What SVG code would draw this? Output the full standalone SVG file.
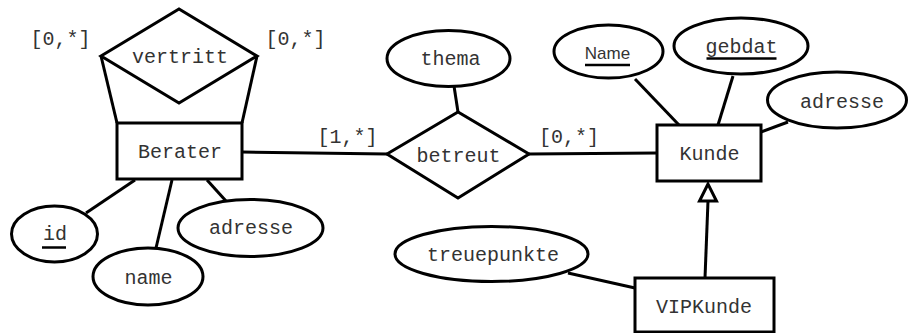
<svg xmlns="http://www.w3.org/2000/svg" width="908" height="333" viewBox="0 0 908 333">
<style>
.s{fill:#fff;stroke:#000;stroke-width:3;stroke-linejoin:miter}
.l{fill:none;stroke:#000;stroke-width:3}
.t{font-family:"Liberation Mono","DejaVu Sans Mono",monospace;font-size:20px;fill:#333;text-anchor:middle}
.u{stroke:#000;stroke-width:2.5}
</style>
<rect width="908" height="333" fill="#fff"/>
<g id="connectors">
<line class="l" x1="101" y1="56" x2="117" y2="123"/>
<line class="l" x1="257" y1="56" x2="242" y2="123"/>
<line class="l" x1="86" y1="213" x2="135" y2="180"/>
<line class="l" x1="156" y1="248" x2="172" y2="180"/>
<line class="l" x1="226" y1="201" x2="207" y2="180"/>
<line class="l" x1="242" y1="152" x2="387" y2="154"/>
<line class="l" x1="529" y1="154" x2="657" y2="153"/>
<line class="l" x1="454" y1="86" x2="458" y2="112"/>
<line class="l" x1="635" y1="79" x2="679" y2="125"/>
<line class="l" x1="733" y1="76" x2="718" y2="125"/>
<line class="l" x1="788" y1="122" x2="761" y2="132"/>
<line class="l" x1="568" y1="273" x2="635" y2="288"/>
<line class="l" x1="705" y1="278" x2="708" y2="201"/>
<polygon class="s" points="708,184 699.5,201 716.5,201"/>
<text class="t" x="60.5" y="45">[0,*]</text>
<text class="t" x="295.5" y="45">[0,*]</text>
<text class="t" x="347.5" y="143">[1,*]</text>
<text class="t" x="569" y="143">[0,*]</text>
</g>
<g id="vertritt">
<polygon class="s" points="101,56 179,9 257,56 179,103"/>
<text class="t" x="180" y="63">vertritt</text>
</g>
<g id="Berater">
<rect class="s" x="117" y="123" width="125" height="56"/>
<text class="t" x="180" y="157.5">Berater</text>
</g>
<g id="id">
<ellipse class="s" cx="54.5" cy="234" rx="43" ry="28"/>
<text class="t" x="55" y="240">id</text>
<line class="u" x1="42" y1="247.5" x2="66" y2="247.5"/>
</g>
<g id="name">
<ellipse class="s" cx="148" cy="276.5" rx="55" ry="28.5"/>
<text class="t" x="148.5" y="283.5">name</text>
</g>
<g id="adresse1">
<ellipse class="s" cx="250.5" cy="228" rx="72.5" ry="28.5"/>
<text class="t" x="251" y="234">adresse</text>
</g>
<g id="betreut">
<polygon class="s" points="387,154 458,112 529,154 458,198"/>
<text class="t" x="458.5" y="161.5">betreut</text>
</g>
<g id="thema">
<ellipse class="s" cx="448.5" cy="58.5" rx="61.5" ry="28"/>
<text class="t" x="450.5" y="65">thema</text>
</g>
<g id="Kunde">
<rect class="s" x="657" y="125" width="104" height="56"/>
<text class="t" x="709.5" y="159.5">Kunde</text>
</g>
<g id="Name">
<ellipse class="s" cx="608.5" cy="51.5" rx="54.5" ry="26.5"/>
<text x="607.5" y="58.5" font-family="'Liberation Sans',Arial,sans-serif" font-size="17" fill="#333" text-anchor="middle">Name</text>
<line class="u" x1="585" y1="65" x2="630" y2="65"/>
</g>
<g id="gebdat">
<ellipse class="s" cx="741" cy="46" rx="67" ry="28"/>
<text class="t" x="741.5" y="52.5">gebdat</text>
<line class="u" x1="706.5" y1="58.5" x2="776.5" y2="58.5"/>
</g>
<g id="adresse2">
<ellipse class="s" cx="837" cy="100" rx="69.5" ry="28"/>
<text class="t" x="842" y="107.5">adresse</text>
</g>
<g id="VIPKunde">
<rect class="s" x="635" y="278" width="139" height="54"/>
<text class="t" x="704" y="312.5">VIPKunde</text>
</g>
<g id="treuepunkte">
<ellipse class="s" cx="491.5" cy="254" rx="96.5" ry="27.5"/>
<text class="t" x="493" y="260.5">treuepunkte</text>
</g>
</svg>
